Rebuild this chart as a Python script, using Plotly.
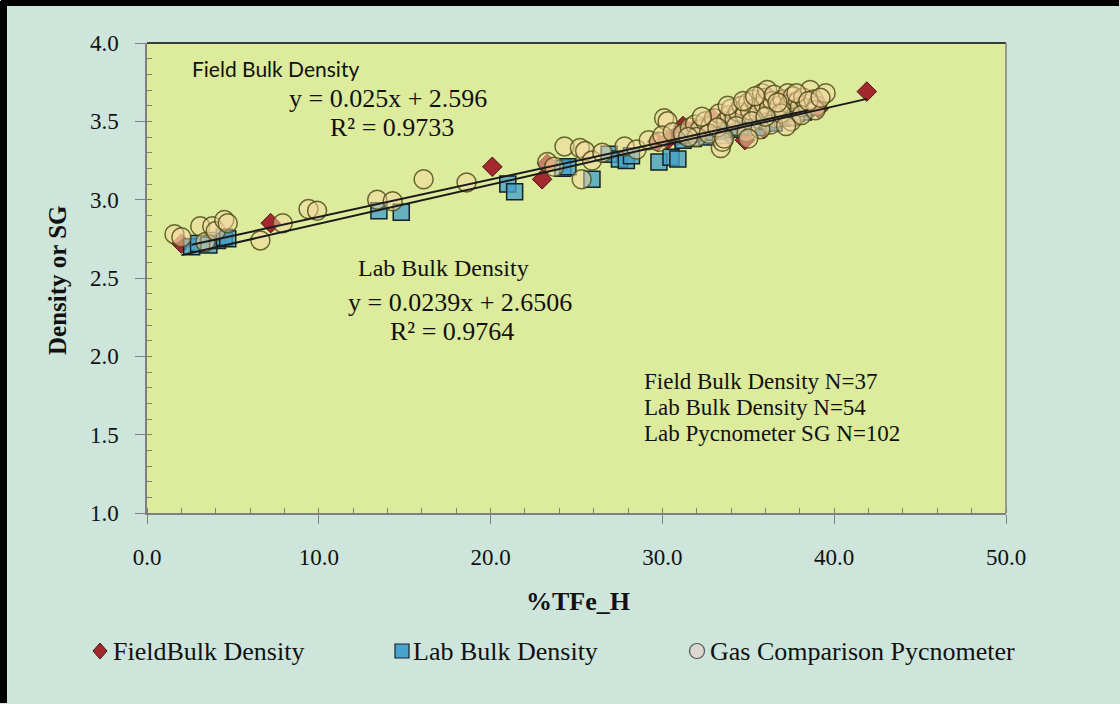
import plotly.graph_objects as go

# ---------------- data ----------------
field_x = [2.0, 7.2, 20.1, 23.0, 23.3, 29.7, 30.3, 34.8, 35.9, 39.1, 41.9,
           30.8, 31.5, 31.9, 32.1, 32.6, 33.2, 33.8, 34.2, 34.5, 34.9, 35.1, 35.4,
           35.8, 36.2, 36.4, 36.7, 37.0, 37.2, 37.5, 38.0, 38.3, 38.6, 38.9, 31.2, 32.9, 34.0]
field_y = [2.72, 2.85, 3.21, 3.13, 3.23, 3.37, 3.38, 3.38, 3.45, 3.58, 3.69,
           3.40, 3.43, 3.46, 3.44, 3.47, 3.49, 3.52, 3.55, 3.50, 3.57, 3.53, 3.60,
           3.63, 3.66, 3.61, 3.55, 3.64, 3.58, 3.62, 3.63, 3.60, 3.57, 3.62, 3.47, 3.52, 3.48]

lab_x = [2.6, 3.0, 3.6, 4.1, 4.5, 4.7, 13.5, 14.8, 21.0, 21.4, 24.2, 24.5, 25.9, 26.9,
         27.5, 27.9, 28.2, 29.8, 30.5, 30.9,
         31.2, 31.5, 31.8, 32.0, 32.3, 32.6, 32.9, 33.1, 33.4, 33.6, 33.9, 34.1, 34.3, 34.5,
         34.7, 34.9, 35.1, 35.3, 35.5, 35.7, 35.9, 36.1, 36.3, 36.5, 36.8, 37.0, 37.2, 37.4,
         37.6, 37.8, 38.0, 38.2, 38.4, 36.6]
lab_y = [2.70, 2.72, 2.71, 2.74, 2.76, 2.75, 2.93, 2.92, 3.10, 3.05, 3.20, 3.21, 3.13, 3.29,
         3.26, 3.25, 3.28, 3.24, 3.27, 3.26,
         3.38, 3.41, 3.39, 3.42, 3.44, 3.40, 3.43, 3.46, 3.44, 3.41, 3.47, 3.45, 3.49, 3.46,
         3.50, 3.47, 3.52, 3.49, 3.46, 3.51, 3.54, 3.50, 3.53, 3.49, 3.55, 3.52, 3.56, 3.53,
         3.57, 3.55, 3.58, 3.56, 3.59, 3.57]

pyc_x = [1.6, 2.0, 3.1, 3.4, 3.8, 4.0, 4.5, 4.7, 6.6, 7.9, 9.4, 9.9, 13.4, 14.3, 16.1, 18.6,
         23.3, 23.7, 24.3, 25.2, 25.5, 25.3, 25.9, 26.5, 27.8, 28.5, 29.2, 29.8, 30.1, 30.3,
         30.0, 30.6, 31.2, 31.6,
         31.9, 32.2, 32.5, 32.8, 33.0, 33.3, 33.4, 33.5, 33.7, 33.9, 34.0, 34.2, 34.4, 34.6,
         34.8, 35.0, 35.1, 35.3, 35.5, 35.6, 35.8, 35.9, 36.0, 36.1, 36.2, 36.4, 36.5, 36.6,
         36.8, 37.0, 37.1, 37.3, 37.4, 37.6, 37.7, 37.9, 38.0, 38.2, 38.4, 38.6, 38.8, 39.0,
         39.5, 34.3, 35.2, 36.3, 37.5, 32.0, 32.7, 33.2, 34.9, 35.7, 36.9, 38.1, 38.9, 31.5,
         33.8, 34.7, 35.4, 36.7, 37.8, 38.5, 39.2, 33.6, 32.3, 35.0, 36.0, 37.2]
pyc_y = [2.78, 2.76, 2.83, 2.73, 2.83, 2.80, 2.87, 2.85, 2.74, 2.85, 2.94, 2.93, 3.00, 2.99, 3.13, 3.11,
         3.24, 3.21, 3.34, 3.33, 3.31, 3.13, 3.25, 3.30, 3.34, 3.32, 3.38, 3.37, 3.52, 3.50,
         3.41, 3.43, 3.42, 3.46,
         3.48, 3.45, 3.50, 3.47, 3.52, 3.55, 3.33, 3.37, 3.50, 3.54, 3.58, 3.52, 3.56, 3.60,
         3.54, 3.62, 3.57, 3.64, 3.59, 3.55, 3.68, 3.61, 3.65, 3.70, 3.58, 3.63, 3.67, 3.52,
         3.60, 3.64, 3.56, 3.68, 3.61, 3.66, 3.53, 3.63, 3.59, 3.65, 3.61, 3.70, 3.64, 3.60,
         3.68, 3.47, 3.50, 3.48, 3.50, 3.40, 3.42, 3.46, 3.43, 3.45, 3.55, 3.54, 3.57, 3.40,
         3.60, 3.63, 3.66, 3.62, 3.68, 3.63, 3.65, 3.39, 3.53, 3.39, 3.53, 3.47]

# trendline coefficients as shown on the chart
field_slope, field_int = 0.025, 2.596
lab_slope, lab_int = 0.0239, 2.6506
field_range = [2.0, 41.9]
lab_range = [2.6, 38.5]

x_ticks = [0, 10, 20, 30, 40, 50]
y_ticks = [1.0, 1.5, 2.0, 2.5, 3.0, 3.5, 4.0]

legend_names = ["FieldBulk Density", "Lab Bulk Density", "Gas Comparison Pycnometer"]

# ---------------- layout geometry (pixels) ----------------
W, H = 1120, 704
L, R, T, B = 147, 114, 43, 191
PW, PH = W - L - R, H - T - B


def px(xp):
    return (xp - L) / PW


def py(yp):
    return 1 - (yp - T) / PH


SERIF = "Liberation Serif"
INK = "#111111"
fig = go.Figure()

fig.add_trace(go.Scatter(x=field_x, y=field_y, mode="markers", name=legend_names[0], showlegend=False,
                         marker=dict(symbol="diamond", size=15, color="#a3292f",
                                     line=dict(color="#4a1214", width=1))))
fig.add_trace(go.Scatter(x=lab_x, y=lab_y, mode="markers", name=legend_names[1], showlegend=False,
                         marker=dict(symbol="square", size=16, color="rgba(70,160,200,0.78)",
                                     line=dict(color="#14232b", width=1.5))))
fig.add_trace(go.Scatter(x=pyc_x, y=pyc_y, mode="markers", name=legend_names[2], showlegend=False,
                         marker=dict(symbol="circle", size=19, color="rgba(246,216,160,0.5)",
                                     line=dict(color="rgba(70,70,20,0.8)", width=1.5))))

fig.add_trace(go.Scatter(x=field_range, y=[field_slope * v + field_int for v in field_range],
                         mode="lines", line=dict(color="#1a1a1a", width=2), showlegend=False))
fig.add_trace(go.Scatter(x=lab_range, y=[lab_slope * v + lab_int for v in lab_range],
                         mode="lines", line=dict(color="#1a1a1a", width=2), showlegend=False))

fig.update_xaxes(range=[0, 50], tickvals=x_ticks, ticktext=[f"{v:.1f}" for v in x_ticks],
                 ticks="outside", ticklen=9, tickcolor="#808080", showline=True,
                 linecolor="#808080", linewidth=1.5, showgrid=False, zeroline=False,
                 minor=dict(ticks="inside", dtick=2, ticklen=5, tickcolor="#808080"),
                 tickfont=dict(family=SERIF, size=23, color=INK), ticklabelstandoff=14)
fig.update_yaxes(range=[1.0, 4.0], tickvals=y_ticks, ticktext=[f"{v:.1f}" for v in y_ticks],
                 ticks="outside", ticklen=10, tickcolor="#808080", showline=True,
                 linecolor="#808080", linewidth=1.5, showgrid=False, zeroline=False,
                 minor=dict(ticks="inside", dtick=0.1, ticklen=5, tickcolor="#808080"),
                 tickfont=dict(family=SERIF, size=23, color=INK), ticklabelstandoff=12)

anns = [
    dict(x=190, y=69, text="Field Bulk Density", xanchor="left",
         font=dict(family="Lato", size=21, color=INK)),
    dict(x=388, y=99, text="y = 0.025x + 2.596", xanchor="center",
         font=dict(family=SERIF, size=26, color=INK)),
    dict(x=392, y=128, text="R² = 0.9733", xanchor="center",
         font=dict(family=SERIF, size=26, color=INK)),
    dict(x=443, y=268, text="Lab Bulk Density", xanchor="center",
         font=dict(family=SERIF, size=24, color=INK)),
    dict(x=460, y=302, text="y = 0.0239x + 2.6506", xanchor="center",
         font=dict(family=SERIF, size=26, color=INK)),
    dict(x=452, y=331, text="R² = 0.9764", xanchor="center",
         font=dict(family=SERIF, size=26, color=INK)),
    dict(x=642, y=381, text="Field Bulk Density N=37", xanchor="left",
         font=dict(family=SERIF, size=23, color=INK)),
    dict(x=642, y=407, text="Lab Bulk Density N=54", xanchor="left",
         font=dict(family=SERIF, size=23, color=INK)),
    dict(x=642, y=433, text="Lab Pycnometer SG N=102", xanchor="left",
         font=dict(family=SERIF, size=23, color=INK)),
    dict(x=578, y=601, text="<b>%TFe_H</b>", xanchor="center",
         font=dict(family=SERIF, size=26, color=INK)),
    dict(x=111, y=651, text=legend_names[0], xanchor="left",
         font=dict(family=SERIF, size=26, color=INK)),
    dict(x=411, y=651, text=legend_names[1], xanchor="left",
         font=dict(family=SERIF, size=26, color=INK)),
    dict(x=708, y=651, text=legend_names[2], xanchor="left",
         font=dict(family=SERIF, size=26, color=INK)),
]
for a in anns:
    fig.add_annotation(x=px(a["x"]), y=py(a["y"]), xref="paper", yref="paper",
                       text=a["text"], showarrow=False, xanchor=a["xanchor"], yanchor="middle",
                       font=a["font"])
fig.add_annotation(x=px(57), y=py(280), xref="paper", yref="paper", text="<b>Density or SG</b>",
                   showarrow=False, textangle=-90, xanchor="center", yanchor="middle",
                   font=dict(family=SERIF, size=25, color=INK))

# legend symbols (drawn as shapes)
cx, cy = 100, 651
fig.add_shape(type="path", xref="paper", yref="paper",
              path=f"M {px(cx - 7)} {py(cy)} L {px(cx)} {py(cy - 8)} L {px(cx + 7)} {py(cy)} "
                   f"L {px(cx)} {py(cy + 8)} Z",
              fillcolor="#a3292f", line=dict(color="#4a1214", width=1))
cx = 402
fig.add_shape(type="rect", xref="paper", yref="paper", x0=px(cx - 7), x1=px(cx + 7),
              y0=py(cy + 7), y1=py(cy - 7), fillcolor="#4aa3cc", line=dict(color="#14232b", width=1.2))
cx = 697
fig.add_shape(type="circle", xref="paper", yref="paper", x0=px(cx - 7.5), x1=px(cx + 7.5),
              y0=py(cy + 7.5), y1=py(cy - 7.5), fillcolor="#dcd7d0", line=dict(color="#555555", width=1.2))

# plot area frame
fig.add_shape(type="line", xref="x domain", yref="y domain", x0=0, x1=1, y0=1, y1=1,
              line=dict(color="#3a3a3a", width=2))
fig.add_shape(type="line", xref="x domain", yref="y domain", x0=1, x1=1, y0=0, y1=1,
              line=dict(color="#808080", width=1.5))
# outer black frame edges (left and top)
fig.add_shape(type="line", xref="paper", yref="paper", x0=px(3.5), x1=px(3.5),
              y0=py(703), y1=py(1), line=dict(width=7, color="black"), layer="above")
fig.add_shape(type="line", xref="paper", yref="paper", x0=px(1), x1=px(1119),
              y0=py(3), y1=py(3), line=dict(width=6, color="black"), layer="above")

fig.update_layout(
    width=W, height=H,
    margin=dict(l=L, r=R, t=T, b=B),
    paper_bgcolor="#cde5da",
    plot_bgcolor="#dceb9c",
    showlegend=False,
)

fig.write_html("out.html", config={"displayModeBar": False},
               post_script="document.body.style.margin='0';")
